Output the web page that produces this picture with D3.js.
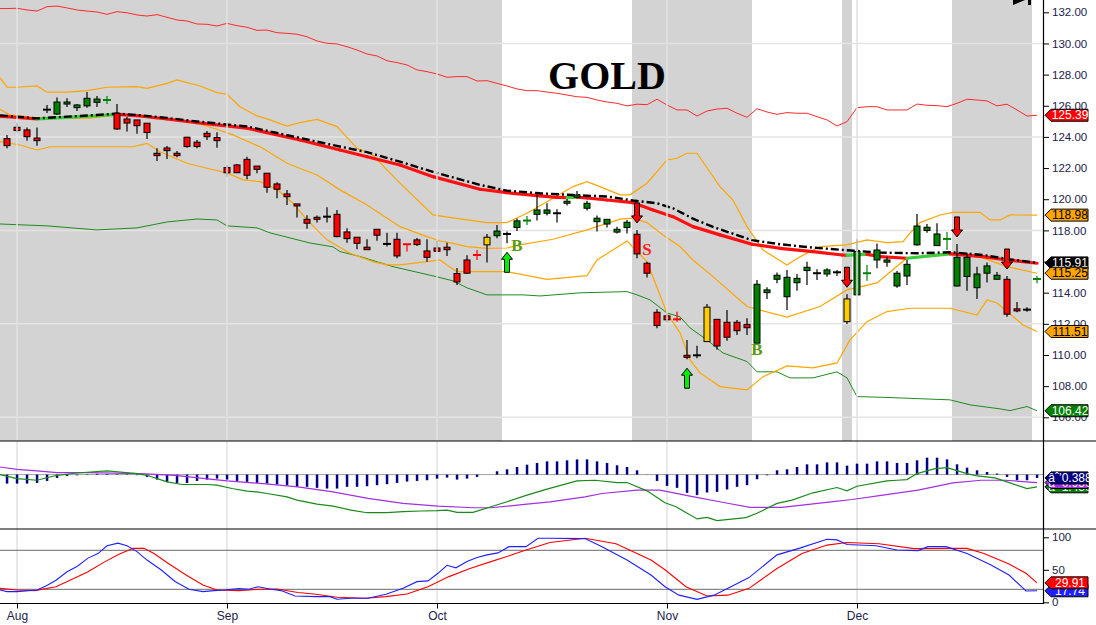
<!DOCTYPE html>
<html>
<head>
<title>GOLD</title>
<style>
body { margin: 0; background: #fff; }
text { font-family: "Liberation Sans", Arial, sans-serif; }
</style>
</head>
<body>
<div id="chart"></div>
<script src="https://d3js.org/d3.v7.min.js"></script>
<script>
const width = 1096;
const height = 625;

// daily bars, index 0 = last day of July
const openP = [123.89,124.62,124.45,123.93,125.75,125.47,126.11,125.88,125.99,126.22,
  126.37,125.52,125.15,125.09,124.88,122.95,123.29,122.95,123.98,123.66,
  124.23,123.96,122.03,122.20,122.56,122.13,121.67,120.98,120.34,119.70,
  118.71,118.84,118.88,119.03,117.90,117.56,116.92,118.07,117.13,117.43,
  117.11,117.39,116.68,116.87,116.92,115.23,116.10,116.42,117.07,117.66,
  117.77,118.18,118.63,119.03,119.10,119.10,119.74,120.13,119.42,118.56,
  118.41,117.89,118.18,117.75,115.89,112.74,112.51,112.29,109.98,109.98,
  110.86,112.29,112.10,112.10,111.97,110.76,114.00,114.86,113.74,114.64,
  115.42,115.25,115.20,115.31,112.14,113.86,115.25,116.10,115.96,114.43,
  115.07,117.07,117.99,117.02,117.45,114.43,115.04,114.32,115.25,114.86,
  114.86,112.96,112.91,114.88];
const highP = [124.12,124.89,124.60,124.60,126.05,126.53,126.48,126.11,126.88,126.62,
  126.62,126.11,125.28,125.09,124.88,123.27,123.42,123.10,124.01,123.80,
  124.38,124.30,122.20,122.26,122.73,122.13,121.67,121.09,120.60,119.70,
  118.97,118.95,119.48,119.31,118.14,117.56,117.43,118.07,117.85,117.85,
  117.11,117.51,117.43,117.34,117.21,115.59,116.40,116.74,117.77,118.35,
  117.92,118.77,118.93,120.27,119.74,119.36,120.02,120.53,119.91,118.95,
  118.71,118.24,118.67,118.03,115.99,112.94,112.64,112.78,110.97,110.60,
  113.28,112.29,112.89,112.25,112.36,114.82,114.35,115.29,115.46,115.20,
  115.99,115.50,115.57,115.46,113.90,117.43,115.78,117.15,116.31,115.40,
  116.10,119.05,118.41,118.45,117.90,117.13,116.57,115.67,115.93,115.33,
  115.07,113.41,113.07,115.07];
const lowP = [123.27,124.28,123.76,123.44,125.53,125.41,125.92,125.66,125.88,125.92,
  126.11,124.45,124.34,124.21,123.87,122.46,122.58,122.69,123.31,123.27,
  123.80,123.31,121.45,121.70,121.28,121.67,120.42,120.06,119.63,118.82,
  118.11,118.50,118.50,117.56,117.21,116.79,116.74,117.34,116.96,116.21,
  116.64,117.00,115.99,116.66,116.36,114.50,115.25,116.10,115.93,117.49,
  117.17,117.96,118.35,118.63,118.95,118.50,119.59,120.06,119.27,117.92,
  118.18,117.80,117.80,116.21,114.97,111.72,112.10,112.14,109.73,109.79,
  110.86,110.33,110.92,111.29,111.29,110.76,113.60,114.61,112.89,114.13,
  114.50,114.82,115.03,115.07,111.99,113.86,114.77,115.57,115.67,114.32,
  114.50,117.02,117.85,117.02,116.74,114.39,114.13,113.60,114.65,114.86,
  112.46,112.74,112.77,114.61];
const closeP = [123.44,124.41,124.01,123.76,125.75,126.24,126.24,126.05,126.48,126.43,
  126.37,124.51,124.89,124.72,124.28,122.80,123.12,122.80,123.38,123.38,
  124.01,123.76,121.70,121.70,121.54,121.92,120.77,120.64,120.16,119.57,
  118.46,118.71,118.88,117.60,117.47,117.17,116.76,117.69,117.13,116.36,
  117.11,117.09,116.27,116.66,116.76,114.69,115.25,116.42,117.56,117.96,
  117.77,118.61,118.63,119.31,119.31,119.10,119.87,120.27,119.74,118.78,
  118.71,118.07,118.52,116.49,115.25,111.89,112.26,112.29,109.85,109.98,
  113.07,110.58,111.14,111.56,111.75,114.54,114.18,115.12,114.99,114.92,
  115.63,115.25,115.46,115.31,113.60,116.65,115.25,116.74,116.10,115.25,
  115.82,118.28,118.20,117.77,117.45,116.27,116.27,115.20,115.72,115.12,
  112.62,112.83,112.91,114.88];
// g = green, r = red, y = yellow, k = black
const barColor = ("rrrrkggggg" + "grrrrrrrrr" + "rrrrrrrrrr" + "rrkrrrrrkr" +
  "rrrrrrrryg" + "kggggkgggg" + "gggrrrrrrk" + "yrrrrggggg" +
  "gkgkyggggg" + "gggggggggg" + "rrkg").split("");

// indicator lines, [bar index, value]
const envTop = [132.24,132.26,132.15,132.08,132.36,132.40,132.28,132.15,132.08,132.02,
  131.87,132.04,131.97,131.83,131.76,131.85,131.68,131.51,131.44,131.25,
  131.23,131.12,131.29,131.14,131.04,130.84,130.86,130.69,130.65,130.59,
  130.43,130.16,130.01,129.97,129.79,129.58,129.32,129.20,128.89,128.77,
  128.62,128.30,128.19,128.04,127.83,127.87,127.87,127.59,127.61,127.44,
  127.27,127.08,126.97,126.97,126.88,126.80,126.69,126.58,126.54,126.37,
  126.24,126.16,125.99,126.10,126.07,126.42,126.05,125.73,125.73,125.34,
  125.66,125.79,125.84,125.52,125.26,125.81,125.60,125.45,125.56,125.52,
  125.52,125.30,125.09,124.70,124.98,125.88,125.94,125.94,125.73,125.73,
  125.73,126.11,126.03,126.01,125.94,126.16,126.42,126.37,126.31,125.99,
  126.10,125.73,125.34,125.39];
const envBottom = [[-0.7,118.41],[4,118.29],[9,118.03],[13,118.16],[16,118.54],[19,118.73],[21,118.67],
  [22,118.29],[25,118.16],[26.3,117.84],[30.3,117.19],[32.6,116.94],[33.3,116.64],[35.3,116.32],
  [38.6,115.67],[42.6,115.08],[44.6,114.76],[46,114.31],[48,113.86],[51.6,113.86],[53.3,113.79],
  [57.3,113.99],[62,114.07],[63,113.86],[64.3,113.54],[66,112.70],[67.3,112.45],[68.3,111.74],
  [70,110.97],[71.6,110.13],[74,109.58],[75,108.92],[77,108.92],[78.3,108.53],[80.6,108.53],
  [83,108.92],[84,108.53],[85,107.33],[87.3,107.29],[94.3,107.12],[96.3,106.80],[99.3,106.54],
  [100.3,106.43],[102,106.69],[103,106.42]];
const bandUpper = [[-0.7,127.80],[0,127.19],[1,127.19],[3,127.27],[4,126.87],[6,126.87],[8,126.97],
  [10,127.19],[13,127.23],[14,127.12],[16,127.44],[17,127.66],[19.3,127.27],[21,126.84],[22,126.74],
  [23.3,125.94],[25,125.35],[26.3,125.09],[28,124.70],[29.3,124.92],[31,125.13],[33,124.66],
  [35,123.27],[36.6,122.84],[38,121.88],[39.3,121.03],[42.6,118.99],[44.6,118.80],[48,118.50],
  [50,118.50],[52,119.10],[54.6,120.06],[56.6,120.81],[58,121.13],[59.3,120.81],[61.3,120.28],
  [62.3,120.28],[64,121.03],[66,122.52],[67,122.63],[68,122.95],[69,122.95],[71.3,120.81],
  [72.6,119.95],[74,118.24],[75.6,116.74],[78,115.78],[79.3,116.30],[81.3,116.96],[84,117.07],
  [86,117.39],[88,117.21],[89.6,117.28],[90.3,117.82],[91.3,118.50],[93.3,118.99],[94.6,119.16],
  [97.3,119.16],[98.3,118.67],[99.3,118.67],[100.3,118.99],[103,118.98]];
const bandMiddle = [[-0.7,125.77],[0.3,125.41],[2.6,125.26],[4.3,125.20],[8.3,125.20],[11,125.41],
  [13,125.41],[15,125.26],[17,125.13],[19.3,124.83],[21,124.49],[22.6,124.13],[25.5,123.30],
  [28,122.31],[31,121.56],[33.3,120.60],[36,119.63],[39.3,118.24],[42,117.60],[43.3,117.32],
  [44.6,117.17],[46,116.96],[48,116.85],[50,116.87],[51.3,117.07],[54.6,117.43],[58,118.03],
  [61.3,118.72],[62.6,118.78],[64,118.50],[65.6,117.71],[67.3,116.96],[68.6,116.10],[70.6,115.03],
  [74,113.11],[78,112.43],[81.3,113.11],[84,114.18],[87,114.63],[90,116.23],[94.3,116.55],
  [97.6,116.23],[100,115.67],[103,115.25]];
const bandLower = [[-0.7,123.70],[1.3,123.48],[3,123.16],[4.3,123.37],[12.6,123.37],[14,123.59],
  [15.3,123.05],[18,122.31],[20,121.99],[22,121.69],[23.6,121.24],[25.3,121.13],[27,120.64],
  [28.6,119.74],[30,118.67],[32,117.39],[34.3,116.53],[36.6,115.99],[38,115.78],[39.3,115.78],
  [42,115.99],[43.3,116.10],[44,115.78],[45,115.35],[50,115.35],[54,114.86],[58,115.09],[59,116.10],
  [62,117.32],[64,115.99],[66,112.68],[67.3,111.42],[68.3,109.68],[69.3,108.85],[71.3,107.97],
  [74,107.76],[75.6,108.61],[78,109.30],[80.6,109.17],[83,109.49],[84.3,110.97],[86,112.14],
  [88,112.79],[90.3,113.00],[94.3,113.00],[97,112.57],[98,113.53],[99,113.34],[101.6,111.93],
  [103,111.51]];
const maLine = [[-0.7,125.32],[0,125.30],[3,125.15],[6,125.26],[9,125.36],[11,125.45],[13,125.36],
  [16,125.15],[19,124.91],[24,124.56],[29.3,123.80],[33.3,123.16],[36,122.73],[39.3,122.20],
  [42.6,121.45],[47.3,120.64],[50,120.42],[53.3,120.21],[55,120.12],[56,120.10],[57,120.14],
  [58,120.08],[60,119.95],[62.6,119.78],[64.6,119.31],[66.6,118.88],[68.6,118.24],[71.3,117.71],
  [74.5,117.11],[77.3,116.85],[80.6,116.64],[83.5,116.42],[84,116.40],[85,116.44],[86,116.46],
  [87.3,116.32],[90,116.21],[94.3,116.49],[95,116.46],[97.6,116.32],[100,116.10],[103,115.89]];
const emaLine = [[-0.7,125.38],[0,125.35],[3,125.19],[9,125.41],[11,125.49],[13,125.41],[16,125.22],
  [19,124.99],[24,124.67],[33,123.42],[36,123.02],[39.3,122.41],[42.6,121.75],[47.3,120.92],
  [50,120.55],[53.3,120.38],[56.6,120.27],[60,120.17],[62.6,119.92],[65,119.74],[66.6,119.42],
  [68.6,118.75],[70.6,118.22],[74.5,117.37],[77.3,117.11],[80.6,116.89],[83.5,116.75],
  [87.3,116.57],[91,116.53],[94.3,116.60],[97.6,116.42],[100,116.17],[103,115.91]];

// signals
const buyIdx = [50, 68];
const sellIdx = [63, 84, 95, 100];
const markIdx = [51, 75, 64];
const markVal = [116.7, 110.0, 116.4];
const markText = ["B", "B", "S"];

// MACD panel
const macdHist = [-1.05,-1.05,-1.05,-0.97,-0.74,-0.39,-0.16,-0.08,0.05,0.10,
  0.08,0.05,-0.05,-0.06,-0.27,-0.58,-0.85,-0.97,-0.97,-0.74,
  -0.58,-0.47,-0.58,-0.74,-0.85,-0.97,-1.05,-1.16,-1.24,-1.43,
  -1.43,-1.55,-1.63,-1.63,-1.43,-1.43,-1.36,-1.24,-1.12,-0.97,
  -0.81,-0.74,-0.66,-0.47,-0.35,-0.58,-0.47,-0.27,0.0,0.39,
  0.62,0.89,1.16,1.36,1.55,1.55,1.67,1.78,1.78,1.55,
  1.36,1.09,0.89,0.50,-0.02,-0.74,-1.32,-1.55,-2.13,-2.40,
  -2.09,-2.02,-1.74,-1.43,-1.24,-0.54,-0.08,0.50,0.62,0.89,
  1.20,1.20,1.43,1.43,1.05,1.28,1.28,1.55,1.55,1.36,
  1.36,1.67,1.98,1.98,1.78,1.20,0.81,0.50,0.31,0.12,
  -0.27,-0.66,-0.66,-0.388];
const macdLine = [[-0.7,0.0],[1,-0.47],[3,-0.66],[5,-0.08],[7,0.19],[10,0.43],[13,0.12],[14,-0.08],
  [16,-0.85],[17.5,-1.16],[20,-1.16],[21,-1.24],[22.5,-1.63],[24,-1.94],[25,-2.02],[26,-2.21],
  [28,-2.60],[29,-2.98],[31,-3.45],[32.6,-3.68],[34.4,-4.15],[36,-4.46],[38,-4.46],[39.6,-4.34],
  [41.4,-4.26],[43,-4.22],[44,-4.15],[45,-4.42],[46.6,-4.42],[48.4,-3.76],[50,-3.18],[52,-2.40],
  [54,-1.70],[57,-0.74],[58.8,-0.66],[61,-0.93],[62,-0.93],[64,-1.90],[65.8,-3.29],[66.9,-3.76],
  [69,-5.19],[70,-5.00],[71,-5.39],[73.9,-5.04],[75,-4.53],[77,-3.37],[78.5,-2.98],[80.6,-2.13],
  [83,-1.51],[84,-1.90],[85,-1.36],[88,-0.74],[89,-0.66],[90,-0.58],[91,0.12],[92.8,0.70],
  [94,0.81],[96,0.12],[97,-0.16],[98.8,-0.39],[100,-0.85],[102,-1.63],[103,-1.43]];
const signalLine = [[-0.7,0.89],[1,0.62],[3,0.43],[5,0.23],[8,0.23],[13.3,0.12],[16.8,-0.08],
  [20.3,-0.54],[22,-0.74],[25.6,-1.05],[29.1,-1.43],[32.6,-2.02],[36.1,-2.79],[39.6,-3.37],
  [43.1,-3.68],[46.7,-3.88],[48.4,-3.88],[52,-3.45],[54.3,-3.18],[57.8,-2.60],[59.5,-2.21],
  [63,-1.82],[65.3,-1.82],[68.3,-2.52],[71.8,-3.29],[74.3,-3.84],[77.5,-3.84],[82.4,-3.18],
  [84.5,-2.91],[87.6,-2.40],[91.1,-1.82],[94.6,-0.97],[97.4,-0.66],[99.8,-0.66],[103,-0.93]];

// stochastic panel
const stochK = [[-0.7,19],[0,16.4],[1,16.4],[3,19],[3.9,25],[4.9,34],[6,47],[7,55],[8.1,68],[9.1,75],
  [10,87],[11.1,91],[12,87],[13,78],[14,65],[15.4,50],[16.8,32],[18.2,20],[19.6,16.4],[20.7,18],
  [21.8,19],[23.2,21],[24.2,20],[25.1,24],[26.3,20.5],[27.4,18],[28.8,9.7],[30.9,8.7],[32.3,8.7],
  [33,4.6],[34.4,6.2],[36.1,6.2],[37.9,12.3],[39.6,21.5],[41,31.8],[42.1,33],[43.1,44.6],[44,57],
  [44.9,53],[46,62.6],[47,69],[48,73],[49.1,76],[50.2,85.6],[51.9,85.6],[53.1,98.5],[54.3,98.5],
  [57.8,98],[59.5,85.6],[62,65],[64.4,42],[65.8,24],[67.2,11],[69,4.6],[70.7,11],[72.1,21.5],
  [74.2,38],[77,73],[79.2,83],[82,97],[83,96],[84,89],[86.9,87],[89,80.5],[91.1,79.5],[92.1,85.6],
  [93.9,85.6],[96,75],[98.4,57.4],[100.2,42],[101.9,17.4],[103,17.74]];
const stochD = [[-0.7,21.5],[1,19],[2.8,18],[4.9,24],[6.3,34],[8.1,47],[9.8,62.6],[11.2,74],[12.6,83],
  [13.7,83],[14.7,75],[16.1,60],[17.9,42],[19.6,26.7],[21,19],[23.2,18],[25.3,20],[27,20.5],[29.1,15],
  [30.9,12.3],[33,7.7],[35.8,6.2],[37.9,8.7],[40,12.8],[42.1,24],[44.2,39.5],[46.3,52],[48.4,62.6],
  [50.5,73],[51.9,80.5],[54.3,92],[57.8,98.5],[60.9,90],[64.4,65],[65.8,50],[67.9,24],[70,9.7],
  [72.1,11],[74.2,21.5],[77,52],[79.5,75],[82,88],[84,92],[87.2,90],[90.7,82.6],[94.2,83],[96,83],
  [97.7,75],[100.2,59],[101.9,44.6],[103,29.91]];

// axis ticks and shading
const priceTicks = [106,108,110,112,114,116,118,120,122,124,126,128,130,132];
const priceGrid = [106,112,118,124,130];
const stochTicks = [0,50,100];
const stochLevels = [20,80];
const monthIdx = [1,22,43,66,85];
const monthLabels = ["Aug","Sep","Oct","Nov","Dec"];
const shadeFrom = [-1.5, 62.5, 83.5, 94.5];
const shadeTo = [49.5, 74.5, 84.5, 102.5];

const svg = d3.select("#chart").append("svg")
  .attr("width", width).attr("height", height)
  .style("display", "block");

svg.append("rect").attr("width", width).attr("height", height).attr("fill", "#fff");

const plotRight = 1043;
const x = d3.scaleLinear().domain([0, 103]).range([7, 1037]);
const y = d3.scaleLinear().domain([106, 132]).range([417.3, 12.3]);
const yM = d3.scaleLinear().domain([-6.4, 3.85]).range([529.3, 441.7]);
const yS = d3.scaleLinear().domain([0, 100]).range([602.3, 537.3]);

const defs = svg.append("defs");
defs.append("clipPath").attr("id", "clipMain").append("rect")
  .attr("x", 0).attr("y", 0).attr("width", plotRight).attr("height", 441);
defs.append("clipPath").attr("id", "clipMacd").append("rect")
  .attr("x", 0).attr("y", 441).attr("width", plotRight).attr("height", 88);
defs.append("clipPath").attr("id", "clipStoch").append("rect")
  .attr("x", 0).attr("y", 529).attr("width", plotRight).attr("height", 74);

// Main panel
const main = svg.append("g").attr("clip-path", "url(#clipMain)");

main.selectAll("rect.shade").data(shadeFrom).join("rect")
  .attr("class", "shade")
  .attr("x", d => x(d))
  .attr("y", 0)
  .attr("width", (d, i) => x(shadeTo[i]) - x(d))
  .attr("height", 441)
  .attr("fill", "#d3d3d3");

main.selectAll("line.hgrid").data(priceGrid).join("line")
  .attr("x1", 0).attr("x2", plotRight)
  .attr("y1", d => y(d)).attr("y2", d => y(d))
  .attr("stroke", "#e4e4e4").attr("stroke-width", 1.5);

svg.selectAll("line.vgrid").data(monthIdx).join("line")
  .attr("x1", d => x(d)).attr("x2", d => x(d))
  .attr("y1", 0).attr("y2", 603)
  .attr("stroke", "#e2e2e2").attr("stroke-width", 1.5);

const pLine = d3.line().x(d => x(d[0])).y(d => y(d[1]));

main.append("path")
  .attr("d", pLine([[-0.7, envTop[0]]].concat(envTop.map((v, i) => [i, v]))))
  .attr("fill", "none").attr("stroke", "#ff2a2a").attr("stroke-width", 1);
main.append("path").attr("d", pLine(envBottom))
  .attr("fill", "none").attr("stroke", "#1e8c1e").attr("stroke-width", 1);
[bandUpper, bandMiddle, bandLower].forEach(b => {
  main.append("path").attr("d", pLine(b))
    .attr("fill", "none").attr("stroke", "#ffa500").attr("stroke-width", 1.2);
});

// moving average coloured by direction
for (let i = 1; i < maLine.length; i++) {
  const a = maLine[i - 1], b = maLine[i];
  main.append("line")
    .attr("x1", x(a[0])).attr("y1", y(a[1]))
    .attr("x2", x(b[0])).attr("y2", y(b[1]))
    .attr("stroke", b[1] > a[1] ? "#3ccd3c" : "#ff1010")
    .attr("stroke-width", 3.2)
    .attr("stroke-linecap", "round");
}
main.append("path").attr("d", pLine(emaLine))
  .attr("fill", "none").attr("stroke", "#000").attr("stroke-width", 2.4)
  .attr("stroke-dasharray", "8,3,2,3");

// candles
const colorOf = { g: "#008000", r: "#ff0000", y: "#ffcc00", k: "#000000" };
const bars = d3.range(openP.length).map(i => ({
  i, o: openP[i], h: highP[i], l: lowP[i], c: closeP[i], col: barColor[i]
}));

main.selectAll("line.wick").data(bars).join("line")
  .attr("x1", d => x(d.i)).attr("x2", d => x(d.i))
  .attr("y1", d => y(d.h)).attr("y2", d => y(d.l))
  .attr("stroke", d => d.o === d.c ? colorOf[d.col] : "#000")
  .attr("stroke-width", 1.2);

main.selectAll("rect.body").data(bars.filter(d => d.o !== d.c)).join("rect")
  .attr("x", d => x(d.i) - 3)
  .attr("y", d => y(Math.max(d.o, d.c)))
  .attr("width", 6)
  .attr("height", d => Math.max(1.5, y(Math.min(d.o, d.c)) - y(Math.max(d.o, d.c))))
  .attr("fill", d => colorOf[d.col])
  .attr("stroke", "#000").attr("stroke-width", 1);

main.selectAll("line.doji").data(bars.filter(d => d.o === d.c)).join("line")
  .attr("x1", d => x(d.i) - 4).attr("x2", d => x(d.i) + 4)
  .attr("y1", d => y(d.c)).attr("y2", d => y(d.c))
  .attr("stroke", d => colorOf[d.col]).attr("stroke-width", 2);

// buy / sell arrows
const upArrow = "M0,0 L5.5,7 L2.5,7 L2.5,20 L-2.5,20 L-2.5,7 L-5.5,7 Z";
const downArrow = "M0,0 L5.5,-7 L2.5,-7 L2.5,-20 L-2.5,-20 L-2.5,-7 L-5.5,-7 Z";
main.selectAll("path.buy").data(buyIdx).join("path")
  .attr("d", upArrow)
  .attr("transform", d => `translate(${x(d)},${y(lowP[d]) + 9})`)
  .attr("fill", "#00ee00").attr("stroke", "#000").attr("stroke-width", 1);
main.selectAll("path.sell").data(sellIdx).join("path")
  .attr("d", downArrow)
  .attr("transform", d => `translate(${x(d)},${y(highP[d]) - 7})`)
  .attr("fill", "#ff0000").attr("stroke", "#000").attr("stroke-width", 1);

main.selectAll("text.mark").data(markIdx).join("text")
  .attr("x", d => x(d))
  .attr("y", (d, i) => y(markVal[i]))
  .attr("text-anchor", "middle")
  .style("font-family", "'Liberation Serif', serif")
  .attr("font-size", 17)
  .attr("font-weight", "bold")
  .attr("fill", (d, i) => markText[i] === "S" ? "#ff1a1a" : "#5a9a10")
  .text((d, i) => markText[i]);

// title
svg.append("text")
  .attr("x", 607).attr("y", 89)
  .attr("text-anchor", "middle")
  .style("font-family", "'Liberation Serif', serif")
  .attr("font-size", 40)
  .attr("font-weight", "bold")
  .attr("fill", "#000")
  .text("GOLD");

// small toolbar glyph at top right
svg.append("path").attr("d", "M1013,-5 L1025,0 L1013,5 Z").attr("fill", "#000");
svg.append("rect").attr("x", 1028).attr("y", 0).attr("width", 3).attr("height", 5).attr("fill", "#000");

// MACD panel
const macd = svg.append("g").attr("clip-path", "url(#clipMacd)");
macd.append("line").attr("x1", 0).attr("x2", plotRight)
  .attr("y1", yM(0)).attr("y2", yM(0))
  .attr("stroke", "#a0a0a0").attr("stroke-width", 1);
macd.selectAll("rect.hist").data(macdHist).join("rect")
  .attr("x", (d, i) => x(i) - 1.2)
  .attr("y", d => Math.min(yM(0), yM(d)))
  .attr("width", 2.5)
  .attr("height", d => Math.abs(yM(d) - yM(0)))
  .attr("fill", "#000080");
const mLine = d3.line().x(d => x(d[0])).y(d => yM(d[1]));
macd.append("path").attr("d", mLine(signalLine))
  .attr("fill", "none").attr("stroke", "#a030e0").attr("stroke-width", 1.2);
macd.append("path").attr("d", mLine(macdLine))
  .attr("fill", "none").attr("stroke", "#1a8a1a").attr("stroke-width", 1.2);

// Stochastic panel
const stoch = svg.append("g").attr("clip-path", "url(#clipStoch)");
stoch.selectAll("line.lvl").data(stochLevels).join("line")
  .attr("x1", 0).attr("x2", plotRight)
  .attr("y1", d => yS(d)).attr("y2", d => yS(d))
  .attr("stroke", "#888").attr("stroke-width", 1.2);
const sLine = d3.line().x(d => x(d[0])).y(d => yS(d[1]));
stoch.append("path").attr("d", sLine(stochD))
  .attr("fill", "none").attr("stroke", "#ff0000").attr("stroke-width", 1.1);
stoch.append("path").attr("d", sLine(stochK))
  .attr("fill", "none").attr("stroke", "#2020ff").attr("stroke-width", 1.1);

// frame lines
svg.append("line").attr("x1", 0).attr("x2", width).attr("y1", 441).attr("y2", 441)
  .attr("stroke", "#000").attr("stroke-width", 1.2);
svg.append("line").attr("x1", 0).attr("x2", width).attr("y1", 529).attr("y2", 529)
  .attr("stroke", "#000").attr("stroke-width", 1.2);
svg.append("line").attr("x1", 0).attr("x2", plotRight).attr("y1", 603.5).attr("y2", 603.5)
  .attr("stroke", "#000").attr("stroke-width", 1.2);
svg.append("line").attr("x1", plotRight + 0.5).attr("x2", plotRight + 0.5).attr("y1", 0).attr("y2", 604)
  .attr("stroke", "#000").attr("stroke-width", 1.2);

// axes
const axisColor = "#22224a";
function styleAxis(g, size) {
  g.select(".domain").remove();
  g.selectAll(".tick line").attr("stroke", "#000");
  g.selectAll(".tick text").attr("fill", axisColor)
    .style("font-family", "'Liberation Sans', Arial, sans-serif")
    .attr("font-size", size);
}
svg.append("g").attr("transform", `translate(${plotRight},0)`)
  .call(d3.axisRight(y).tickValues(priceTicks).tickFormat(d3.format(".2f")).tickSize(6).tickPadding(3))
  .call(g => styleAxis(g, 11.5));
svg.append("g").attr("transform", `translate(${plotRight},0)`)
  .call(d3.axisRight(yS).tickValues(stochTicks).tickFormat(d3.format("d")).tickSize(6).tickPadding(3))
  .call(g => styleAxis(g, 11.5));
svg.append("g").attr("transform", "translate(0,603.5)")
  .call(d3.axisBottom(x).tickValues(monthIdx).tickFormat((d, i) => monthLabels[i]).tickSize(5).tickPadding(3))
  .call(g => styleAxis(g, 12));

// last value tags
function tag(yPos, label, fill, color) {
  const g = svg.append("g").attr("transform", `translate(${plotRight + 2},${yPos})`);
  g.append("path").attr("d", "M0,0 L6,-6 L43,-6 L43,6 L6,6 Z")
    .attr("fill", fill).attr("stroke", "#000").attr("stroke-width", 1);
  g.append("text").attr("x", 25).attr("y", 4.2)
    .attr("text-anchor", "middle")
    .style("font-family", "'Liberation Sans', Arial, sans-serif")
    .attr("font-size", 12).attr("fill", color)
    .text(label);
}
const last = a => a[a.length - 1][1];
const f2 = d3.format(".2f"), f3 = d3.format(".3f");
tag(y(envTop[envTop.length - 1]), f2(envTop[envTop.length - 1]), "#ff0000", "#fff");
tag(y(last(bandUpper)), f2(last(bandUpper)), "#ffa500", "#000");
tag(y(last(bandLower)), f2(last(bandLower)), "#ffa500", "#000");
tag(y(last(envBottom)), f2(last(envBottom)), "#008000", "#fff");
tag(y(last(emaLine)), f2(last(emaLine)), "#000", "#fff");
tag(y(last(bandMiddle)), f2(last(bandMiddle)), "#ffa500", "#000");

tag(yM(last(macdLine)), f3(last(macdLine)), "#008000", "#fff");
tag(yM(last(signalLine)), f3(last(signalLine)), "#a030e0", "#fff");
tag(yM(macdHist[macdHist.length - 1]), f3(macdHist[macdHist.length - 1]), "#000080", "#fff");

tag(yS(last(stochK)), f2(last(stochK)), "#2020ff", "#fff");
tag(yS(last(stochD)), f2(last(stochD)), "#ff0000", "#fff");
</script>
</body>
</html>
